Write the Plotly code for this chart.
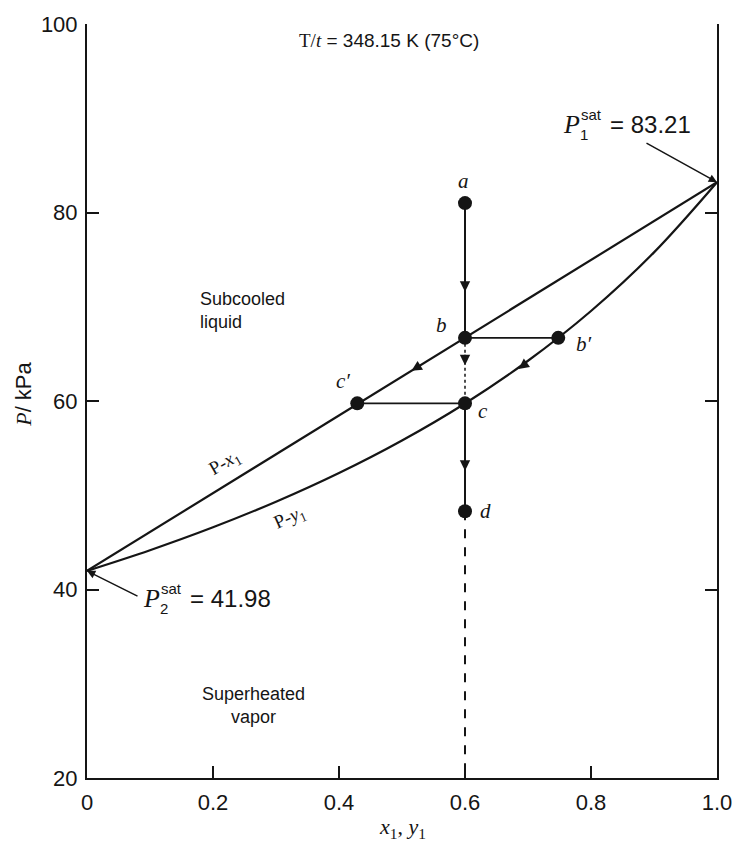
import plotly.graph_objects as go

# ---- data ----
x_line = [0.0, 1.0]
P_x_line = [41.98, 83.21]                      # P-x1 (bubble line)

y1_vals = [0.0, 0.1, 0.2, 0.3, 0.4, 0.5, 0.6, 0.7, 0.8, 0.9, 1.0]
P_y_vals = [41.98, 44.17, 46.60, 49.31, 52.36, 55.81, 59.74, 64.27, 69.55, 75.77, 83.21]  # P-y1 (dew curve)

point_names = ["a", "b", "b′", "c′", "c", "d"]
point_x = [0.6, 0.6, 0.748, 0.429, 0.6, 0.6]
point_P = [81.0, 66.7, 66.7, 59.75, 59.75, 48.3]

x_ticks = [0, 0.2, 0.4, 0.6, 0.8, 1.0]
x_tick_text = ["0", "0.2", "0.4", "0.6", "0.8", "1.0"]
y_ticks = [20, 40, 60, 80, 100]
y_tick_text = ["20", "40", "60", "80", "100"]

P1sat = 83.21
P2sat = 41.98

SANS = "Liberation Sans, Arial, sans-serif"
SERIF = "Liberation Serif, Times New Roman, serif"
INK = "#151515"

W, H = 744, 846
ML, MR, MT, MB = 87, 24, 23, 68
PW, PH = W - ML - MR, H - MT - MB


def px(xp, yp):
    """pixel position in the page -> paper (plot-area) fraction"""
    return (xp - ML) / PW, 1 - (yp - MT) / PH


fig = go.Figure()

fig.add_trace(go.Scatter(x=x_line, y=P_x_line, mode="lines",
                         line=dict(color=INK, width=2.2), hoverinfo="skip"))
fig.add_trace(go.Scatter(x=y1_vals, y=P_y_vals, mode="lines",
                         line=dict(color=INK, width=2.2, shape="spline"), hoverinfo="skip"))

pa, pb, pbp, pcp, pc, pd = range(6)
fig.add_trace(go.Scatter(x=[point_x[pa], point_x[pb]], y=[point_P[pa], point_P[pb]], mode="lines",
                         line=dict(color=INK, width=2), hoverinfo="skip"))
fig.add_trace(go.Scatter(x=[point_x[pb], point_x[pc]], y=[point_P[pb], point_P[pc]], mode="lines",
                         line=dict(color=INK, width=1.5, dash="dot"), hoverinfo="skip"))
fig.add_trace(go.Scatter(x=[point_x[pc], point_x[pd]], y=[point_P[pc], point_P[pd]], mode="lines",
                         line=dict(color=INK, width=2), hoverinfo="skip"))
fig.add_trace(go.Scatter(x=[point_x[pd], point_x[pd]], y=[point_P[pd], y_ticks[0]], mode="lines",
                         line=dict(color=INK, width=2, dash="dash"), hoverinfo="skip"))
fig.add_trace(go.Scatter(x=[point_x[pb], point_x[pbp]], y=[point_P[pb], point_P[pbp]], mode="lines",
                         line=dict(color=INK, width=1.8), hoverinfo="skip"))
fig.add_trace(go.Scatter(x=[point_x[pcp], point_x[pc]], y=[point_P[pcp], point_P[pc]], mode="lines",
                         line=dict(color=INK, width=1.8), hoverinfo="skip"))
fig.add_trace(go.Scatter(x=point_x, y=point_P, mode="markers",
                         marker=dict(color=INK, size=14), hoverinfo="skip"))

ann = []
label_offsets = {"a": (-2, -22), "b": (-24, -13), "b′": (26, 6), "c′": (-14, -22), "c": (18, 8), "d": (20, 0)}
for n, xv, pv in zip(point_names, point_x, point_P):
    dx, dy = label_offsets[n]
    ann.append(dict(x=xv, y=pv, xref="x", yref="y", text=f"<i>{n}</i>", showarrow=False,
                    xshift=dx, yshift=-dy, font=dict(family=SERIF, size=21, color=INK)))

arrow_tips = [
    (0.6, 71.6, 0, -12),
    (0.6, 63.8, 0, -12),
    (0.6, 52.6, 0, -12),
    (0.515, 63.2, 10, -6.2),
    (0.685, 63.4, 10, -7.4),
]
for xt, pt, axo, ayo in arrow_tips:
    ann.append(dict(x=xt, y=pt, xref="x", yref="y", ax=axo, ay=ayo, text="",
                    showarrow=True, arrowhead=2, arrowsize=1.3, arrowwidth=1.6, arrowcolor=INK))

ann.append(dict(x=1.0, y=P1sat, xref="x", yref="y", ax=-72, ay=-40, text="",
                showarrow=True, arrowhead=2, arrowsize=1.1, arrowwidth=1.5, arrowcolor=INK))
ann.append(dict(x=0.0, y=P2sat, xref="x", yref="y", ax=52, ay=26, text="",
                showarrow=True, arrowhead=2, arrowsize=1.1, arrowwidth=1.5, arrowcolor=INK))


def paper_text(xp, yp, text, font, xanchor="center", yanchor="middle", **kw):
    fx, fy = px(xp, yp)
    d = dict(x=fx, y=fy, xref="paper", yref="paper", showarrow=False, text=text, font=font,
             xanchor=xanchor, yanchor=yanchor)
    d.update(kw)
    return d


def sat_label(xpix, ypix, sub, value):
    return [
        paper_text(xpix, ypix, "<i>P</i>", dict(family=SERIF, size=26, color=INK), xanchor="left"),
        paper_text(xpix + 18, ypix - 10, "sat", dict(family=SANS, size=15, color=INK), xanchor="left"),
        paper_text(xpix + 17, ypix + 10, sub, dict(family=SANS, size=15, color=INK), xanchor="left"),
        paper_text(xpix + 47, ypix, "= " + value, dict(family=SANS, size=24, color=INK), xanchor="left"),
    ]


ann += sat_label(563, 124, "1", f"{P1sat:.2f}")
ann += sat_label(141, 598, "2", f"{P2sat:.2f}")

ann.append(paper_text(390, 40, "<span style='font-family:Liberation Serif'>T/<i>t</i></span> = 348.15 K (75°C)",
                      dict(family=SANS, size=19, color=INK)))
ann.append(paper_text(199, 310, "Subcooled<br>liquid", dict(family=SANS, size=18, color=INK),
                      xanchor="left", align="left"))
ann.append(paper_text(254, 705, "Superheated<br>vapor", dict(family=SANS, size=18, color=INK), align="center"))
ann.append(paper_text(226, 463, "P-<i>x</i><sub>1</sub>", dict(family=SERIF, size=19, color=INK), textangle=-30))
ann.append(paper_text(291, 518, "P-<i>y</i><sub>1</sub>", dict(family=SERIF, size=19, color=INK), textangle=-24))
ann.append(paper_text(23, 394, "<span style='font-family:Liberation Serif'><i>P</i></span>/ kPa",
                      dict(family=SANS, size=22, color=INK), textangle=-90))
ann.append(paper_text(404, 828, "<i>x</i><sub>1</sub>, <i>y</i><sub>1</sub>",
                      dict(family=SERIF, size=22, color=INK)))

fig.update_layout(
    width=W, height=H,
    margin=dict(l=ML, r=MR, t=MT, b=MB),
    paper_bgcolor="white", plot_bgcolor="white",
    showlegend=False,
    annotations=ann,
    xaxis=dict(range=[0, 1], tickvals=x_ticks, ticktext=x_tick_text, ticks="inside", ticklen=12,
               tickwidth=1.5, tickcolor=INK, showline=True, linecolor=INK, linewidth=2, mirror=False,
               showgrid=False, zeroline=False, tickfont=dict(family=SANS, size=22, color=INK),
               ticklabelstandoff=4),
    yaxis=dict(range=[20, 100], tickvals=y_ticks, ticktext=y_tick_text, ticks="inside", ticklen=12,
               tickwidth=1.5, tickcolor=INK, showline=True, linecolor=INK, linewidth=2, mirror="ticks",
               showgrid=False, zeroline=False, tickfont=dict(family=SANS, size=22, color=INK),
               ticklabelstandoff=3),
)

fig.write_html("out.html")
